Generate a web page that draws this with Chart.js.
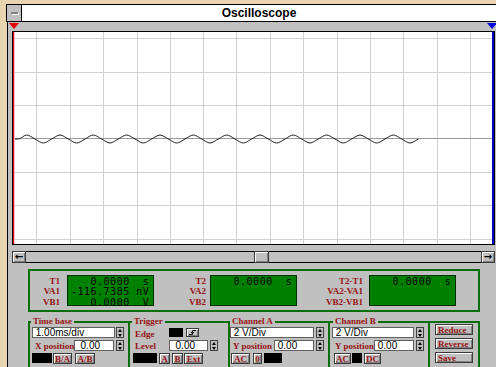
<!DOCTYPE html>
<html>
<head>
<meta charset="utf-8">
<title>Oscilloscope</title>
<script src="https://cdn.jsdelivr.net/npm/chart.js"></script>
<style>
  body { margin:0; width:496px; height:367px; overflow:hidden; position:relative; background:#e8d5b0; font-family:"Liberation Sans", Arial, sans-serif; }
  .a { position:absolute; box-sizing:border-box; }
  .red { color:#961414; font:bold 9px "Liberation Serif", serif; line-height:10px; white-space:nowrap; }
  .cap { background:#c0c0c0; padding:0 2px; }
  .btn { background:#c0c0c0; border:1px solid #3a3a3a; box-shadow:inset 1px 1px #fff, inset -1px -1px #808080; text-align:center; line-height:9px; color:#961414; font:bold 9px "Liberation Serif", serif; }
  .fld { background:#fff; border:1px solid #606060; font:10px "Liberation Sans", Arial, sans-serif; line-height:9px; color:#000; white-space:pre; }
  .blk { background:#000; }
  .grp { border:2px solid #0a6e0a; }
  .lcd { background:#008000; border:1px solid #003000; font:10px "DejaVu Sans Mono", monospace; letter-spacing:0.5px; line-height:10.4px; white-space:pre; color:#000; padding:1px 0 0 3px; }
  .spin { background:#c0c0c0; border:1px solid #404040; }
  .up { position:absolute; left:1px; top:1px; width:0; height:0; border-left:2px solid transparent; border-right:2px solid transparent; border-bottom:3px solid #000; }
  .dn { position:absolute; left:1px; top:6px; width:0; height:0; border-left:2px solid transparent; border-right:2px solid transparent; border-top:3px solid #000; }
</style>
</head>
<body>
<div class="a" style="left:12px;top:31px;width:483px;height:214px;background:#fff;border:1px solid #000"></div>
<canvas id="scope" class="a" width="480" height="212" style="left:13px;top:32px;width:480px;height:212px"></canvas>
<script>
// Channel A trace (time in ms, volts)
const timeMs = [
  0, 0.16, 0.41, 0.66, 0.91, 1.16, 1.41, 1.66, 1.91, 2.16,
  2.41, 2.66, 2.91, 3.16, 3.41, 3.66, 3.91, 4.16, 4.41, 4.66,
  4.91, 5.16, 5.41, 5.66, 5.91, 6.16, 6.41, 6.66, 6.91, 7.16,
  7.41, 7.66, 7.91, 8.16, 8.41, 8.66, 8.91, 9.16, 9.41, 9.66,
  9.91, 10.16, 10.41, 10.66, 10.91, 11.16, 11.41, 11.66, 11.91, 12.16
];
const voltsA = [
  0, 0, 0.24, 0, -0.24, 0, 0.24, 0, -0.24, 0,
  0.24, 0, -0.24, 0, 0.24, 0, -0.24, 0, 0.24, 0,
  -0.24, 0, 0.24, 0, -0.24, 0, 0.24, 0, -0.24, 0,
  0.24, 0, -0.24, 0, 0.24, 0, -0.24, 0, 0.24, 0,
  -0.24, 0, 0.24, 0, -0.24, 0, 0.24, 0, -0.24, 0
];
// screen divisions (1 ms/div, 2 V/div)
const xGridMs = [0.72, 1.72, 2.72, 3.72, 4.72, 5.72, 6.72, 7.72, 8.72, 9.72, 10.72, 11.72, 12.72, 13.72];
const yGridV = [-6, -4, -2, 0, 2, 4, 6];
const xRange = [0, 14.4];
const yRange = [-6.3, 6.42];

new Chart(document.getElementById('scope').getContext('2d'), {
  type: 'line',
  data: {
    datasets: [{
      data: timeMs.map((t, i) => ({ x: t, y: voltsA[i] })),
      borderColor: '#202020',
      borderWidth: 1,
      pointRadius: 0,
      cubicInterpolationMode: 'monotone'
    }]
  },
  options: {
    responsive: false,
    animation: false,
    devicePixelRatio: 1,
    events: [],
    layout: { padding: 0 },
    plugins: { legend: { display: false }, tooltip: { enabled: false } },
    scales: {
      x: {
        type: 'linear', min: xRange[0], max: xRange[1],
        afterBuildTicks: ax => { ax.ticks = xGridMs.map(v => ({ value: v })); },
        ticks: { display: false },
        grid: { color: '#d0d0d0', drawTicks: false },
        border: { display: false }
      },
      y: {
        type: 'linear', min: yRange[0], max: yRange[1],
        afterBuildTicks: ax => { ax.ticks = yGridV.map(v => ({ value: v })); },
        ticks: { display: false },
        grid: { color: c => (c.tick && c.tick.value === 0) ? '#9a9a9a' : '#d0d0d0', drawTicks: false },
        border: { display: false }
      }
    }
  }
});

// window chrome and control panel
function el(cls, x, y, w, h, text, extra) {
  const d = document.createElement('div');
  d.className = 'a ' + cls;
  let css = 'left:' + x + 'px;top:' + y + 'px;';
  if (w != null) css += 'width:' + w + 'px;';
  if (h != null) css += 'height:' + h + 'px;';
  d.style.cssText = css + (extra || '');
  if (text) d.textContent = text;
  document.body.appendChild(d);
  return d;
}
function spin(x, y) {
  const s = el('spin', x, y, 8, 11);
  s.innerHTML = '<div class="up"></div><div class="dn"></div>';
}
function label(text, right, y) {
  el('red', right - 60, y, 60, 10, text, 'text-align:right');
}

// frame pieces
el('', 7, 4, 489, 363, '', 'background:#c0c0c0;border-left:1px solid #000;border-top:1px solid #000;z-index:-1');
el('', 6, 4, 490, 18, '', 'background:#c0c0c0;border:1px solid #000;border-right:none');
el('', 21, 5, 475, 16, 'Oscilloscope', 'background:#fff;border-left:1px solid #000;font:bold 12px "Liberation Sans",Arial,sans-serif;text-align:center;line-height:16px');
el('', 11, 12, 7, 2, '', 'background:#808080;box-shadow:1px 1px #fff');
el('', 9, 23, 0, 0, '', 'border-left:5px solid transparent;border-right:5px solid transparent;border-top:6px solid #e00000');
el('', 487, 23, 0, 0, '', 'border-left:5px solid transparent;border-right:5px solid transparent;border-top:6px solid #0000e0');
el('', 13, 32, 1, 212, '', 'background:#e00000');
el('', 14, 32, 1, 212, '', 'background:#ffc0c0');
el('', 492, 32, 2, 212, '', 'background:#0000c0');

// scrollbar
el('', 12, 251, 483, 12, '', 'background:#c0c0c0;border:1px solid #000');
el('btn', 12, 251, 14, 12, '\u2190', 'color:#000;font:bold 10px "DejaVu Sans";line-height:10px');
el('btn', 254, 251, 15, 12);
el('btn', 481, 251, 14, 12, '\u2192', 'color:#000;font:bold 10px "DejaVu Sans";line-height:10px');

// readouts
el('grp', 28, 269, 452, 43);
el('lcd', 67, 275, 87, 31, '   0.0000  s\n-116.7385 nV\n   0.0000  V');
el('lcd', 210, 275, 87, 31, '   0.0000  s');
el('lcd', 369, 275, 87, 31, '   0.0000  s');
label('T1', 60, 276); label('VA1', 60, 286); label('VB1', 60, 297);
label('T2', 206, 276); label('VA2', 206, 286); label('VB2', 206, 297);
label('T2-T1', 363, 276); label('VA2-VA1', 363, 286); label('VB2-VB1', 363, 297);

// control groups
el('grp', 28, 321, 102, 60);
el('grp', 128, 321, 102, 60);
el('grp', 228, 321, 102, 60);
el('grp', 328, 321, 102, 60);
el('grp', 428, 321, 52, 60);
el('red cap', 31, 316, null, 10, 'Time base');
el('red cap', 132, 316, null, 10, 'Trigger');
el('red cap', 230, 316, null, 10, 'Channel A');
el('red cap', 333, 316, null, 10, 'Channel B');

// time base
el('fld', 32, 327, 83, 11, ' 1.00ms/div');
spin(116, 327);
el('red', 35, 341, null, 10, 'X position');
el('fld', 74, 340, 40, 11, '  0.00');
spin(116, 340);
el('blk', 32, 353, 20, 10);
el('btn', 53, 353, 19, 11, 'B/A');
el('btn', 75, 353, 20, 11, 'A/B');

// trigger
el('red', 135, 329, null, 10, 'Edge');
el('blk', 169, 328, 14, 9);
const edge = el('btn', 186, 328, 13, 9);
edge.innerHTML = '<svg width="11" height="7" style="position:absolute;left:0;top:0"><path d="M2 5.5H5.5V1.5H9" fill="none" stroke="#000"/><path d="M4 3.5H7" stroke="#000"/></svg>';
el('red', 135, 341, null, 10, 'Level');
el('fld', 169, 340, 39, 11, '  0.00');
spin(210, 340);
el('blk', 133, 353, 24, 10);
el('btn', 159, 353, 11, 11, 'A');
el('btn', 172, 353, 11, 11, 'B');
el('btn', 184, 353, 19, 11, 'Ext');

// channel A
el('fld', 230, 327, 84, 11, ' 2 V/Div');
spin(316, 327);
el('red', 233, 341, null, 10, 'Y position');
el('fld', 274, 340, 40, 11, ' 0.00');
spin(316, 340);
el('btn', 231, 353, 19, 11, 'AC');
el('btn', 253, 353, 9, 11, '0');
el('blk', 264, 353, 18, 10);

// channel B
el('fld', 332, 327, 82, 11, ' 2 V/Div');
spin(416, 327);
el('red', 335, 341, null, 10, 'Y position');
el('fld', 374, 340, 40, 11, ' 0.00');
spin(416, 340);
el('btn', 334, 353, 17, 11, 'AC');
el('blk', 352, 353, 10, 10);
el('btn', 364, 353, 17, 11, 'DC');

// buttons
el('btn', 435, 324, 38, 11, 'Reduce', 'text-align:left;padding-left:2px');
el('btn', 435, 338, 38, 11, 'Reverse', 'text-align:left;padding-left:2px');
el('btn', 435, 352, 38, 11, 'Save', 'text-align:left;padding-left:2px');
</script>
</body>
</html>
